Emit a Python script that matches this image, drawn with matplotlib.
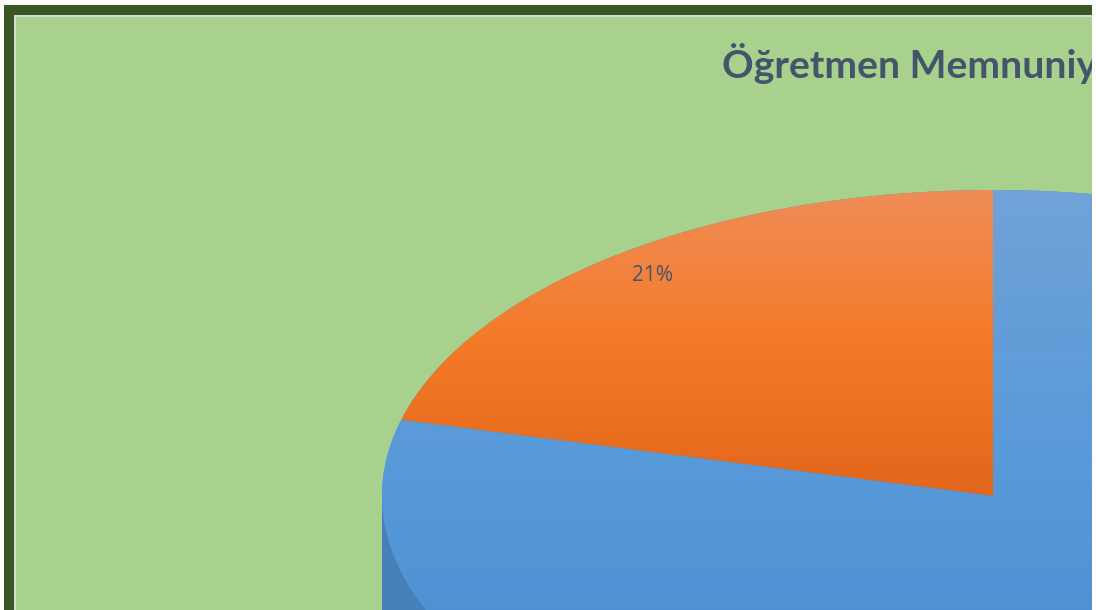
import numpy as np
import matplotlib
matplotlib.use("Agg")
import matplotlib.pyplot as plt
from matplotlib.colors import LinearSegmentedColormap
from matplotlib.patches import Rectangle, Ellipse

title = "Öğretmen Memnuniyeti"
shares = [21, 79]

W, H = 1096, 610
green = "#A9D18E"
dark_green = "#385723"
border = "#D3DDD8"
text_col = "#44546A"
wall_col = "#4780B8"
orange_stops = ["#EF8C58", "#F47A27", "#E2661B"]
blue_stops = ["#70A3D8", "#5598D8", "#468ACB"]

# pie centre and radii in pixels, the pie is squashed to look 3D
cx, cy, rx, ry = 993, 496, 611, 306


def box(x0, y0, x1, y1):
    return [x0 / W, 1 - y1 / H, (x1 - x0) / W, (y1 - y0) / H]


fig = plt.figure(figsize=(W / 100, H / 100), dpi=100, facecolor="white")
fig.add_artist(Rectangle((4 / W, 0), 1088 / W, 1 - 5 / H, transform=fig.transFigure,
                         fc=dark_green, ec="none", zorder=-2))
fig.add_artist(Rectangle((14 / W, 0), 1078 / W, 1 - 15 / H, transform=fig.transFigure,
                         fc=border, ec="none", zorder=-1))

ax = fig.add_axes(box(16, 17, 1092, 610))
ax.set_facecolor(green)

wedges, names, pcts = ax.pie(shares, startangle=90, radius=1, pctdistance=0.91,
                             autopct="%d%%",
                             textprops={"family": "Open Sans", "fontsize": 15, "color": text_col})
ax.set_frame_on(True)
for s in ax.spines.values():
    s.set_visible(False)

# side wall under the top face
ax.add_patch(Rectangle((-1, -2), 2, 2, fc=wall_col, ec="none", zorder=0.5))
ax.add_patch(Ellipse((0, 0), 2, 2, fc=blue_stops[-1], ec="none", zorder=0.6))

# vertical gradients clipped to each slice
for wedge, stops, bottom in zip(wedges, [orange_stops, blue_stops], [0.0, -1.0]):
    cmap = LinearSegmentedColormap.from_list("grad", stops)
    grad = np.linspace(0, 1, 256).reshape(-1, 1)
    im = ax.imshow(grad, cmap=cmap, aspect="auto", extent=(-1, 1, bottom, 1.0), origin="upper", zorder=1)
    im.set_clip_path(wedge)
    wedge.set_visible(False)

ax.set_aspect("auto")
ax.set_xlim((16 - cx) / rx, (1092 - cx) / rx)
ax.set_ylim((cy - 610) / ry, (cy - 17) / ry)

pcts[0].set_zorder(3)
# the other slice's label falls outside the crop
pcts[1].set_visible(False)

ax.text((722 - cx) / rx, (cy - 64) / ry, title, family="Lato", fontweight="bold",
        fontsize=28.2, color=text_col, ha="left", va="center", clip_on=True, zorder=3)

fig.savefig("out.png", dpi=100)
